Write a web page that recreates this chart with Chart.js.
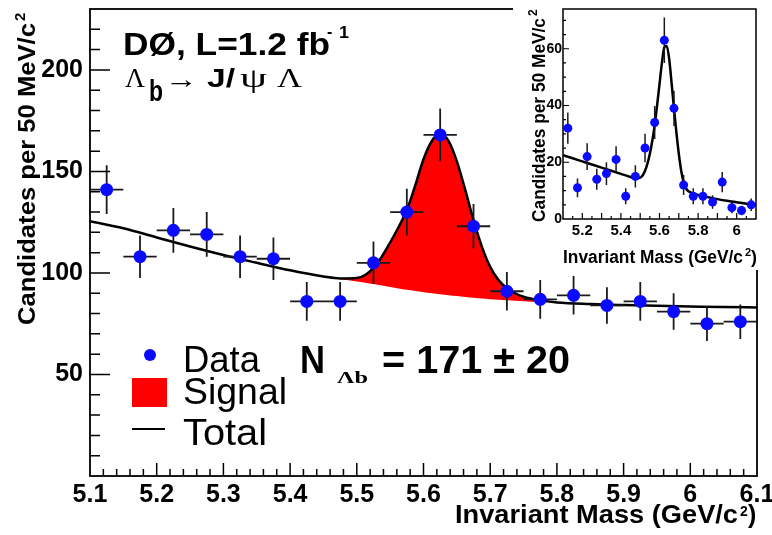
<!DOCTYPE html>
<html>
<head>
<meta charset="utf-8">
<title>Lambda_b invariant mass</title>
<script src="https://cdn.jsdelivr.net/npm/chart.js@4.4.1/dist/chart.umd.min.js"></script>
<style>
  html, body { margin: 0; padding: 0; background: #fff; }
  #wrap { position: relative; width: 772px; height: 535px; overflow: hidden; }
  #mainChart { position: absolute; left: 0; top: 0; }
  #insetBox { position: absolute; left: 513px; top: 0; width: 259px; height: 270px; background: #fff; }
</style>
</head>
<body>
<div id="wrap">
  <canvas id="mainChart" width="772" height="535"></canvas>
  <div id="insetBox"><canvas id="insetChart" width="259" height="270"></canvas></div>
</div>
<script>
// --- donnees du graphique principal (bins de 50 MeV) ---
const massBins = [5.125, 5.175, 5.225, 5.275, 5.325, 5.375, 5.425, 5.475, 5.525, 5.575,
                  5.625, 5.675, 5.725, 5.775, 5.825, 5.875, 5.925, 5.975, 6.025, 6.075];
const candidates = [141, 108, 121, 119, 108, 107, 86, 86, 105, 130,
                    168, 123, 91, 87, 89, 84, 86, 81, 75, 76];
const candErrors = [12, 10.5, 11, 11, 10.5, 10.5, 9.5, 9.5, 10.5, 11.5,
                    13, 11, 9.5, 9.5, 9.5, 9, 9.5, 9, 8.5, 8.5];

// courbe d'ajustement
const fitMass = [5.1, 5.15, 5.2, 5.25, 5.3, 5.35, 5.4, 5.45, 5.475, 5.5,
                 5.5125, 5.525, 5.5375, 5.55, 5.5625, 5.575, 5.5875, 5.6, 5.6125, 5.625,
                 5.6375, 5.65, 5.6625, 5.675, 5.6875, 5.7, 5.7125, 5.725, 5.7375, 5.75,
                 5.775, 5.8, 5.85, 5.9, 5.95, 6.0, 6.05, 6.1];
const fitTotal = [125.5, 122, 117.5, 113, 108.8, 105, 101.3, 98.3, 97.3, 97.5,
                  99, 102.5, 108, 115, 122.5, 131, 143, 156, 165, 168.5,
                  165, 155, 141, 126, 113, 103, 96.5, 92.5, 90, 88.3,
                  86.5, 85.5, 84.7, 84.2, 83.8, 83.5, 83.2, 83];
const fitBackground = [125.5, 122, 117.5, 113, 108.8, 105, 101.3, 98.3, 97.0, 95.8,
                       95.2, 94.5, 93.8, 93.1, 92.4, 91.7, 91.1, 90.5, 90.0, 89.5,
                       89.0, 88.6, 88.2, 87.8, 87.4, 87.1, 86.8, 86.5, 86.3, 86.1,
                       85.7, 85.4, 84.7, 84.2, 83.8, 83.5, 83.2, 83];

const xTickValues = [5.1, 5.2, 5.3, 5.4, 5.5, 5.6, 5.7, 5.8, 5.9, 6.0, 6.1];
const xTickLabels = ['5.1', '5.2', '5.3', '5.4', '5.5', '5.6', '5.7', '5.8', '5.9', '6', '6.1'];
const yTickValues = [50, 100, 150, 200];

// --- encart ---
const insetCounts = [32, 11, 22, 14, 16, 21, 8, 15, 25, 34,
                     63, 39, 12, 8, 8, 6, 13, 4, 3, 5];
const insetErrors = [5.5, 3.3, 4.7, 3.7, 4, 4.6, 2.8, 3.9, 5, 5.8,
                     8, 6.2, 3.5, 2.8, 2.8, 2.4, 3.6, 2, 1.7, 2.2];
const insetFit = [22.5, 21.4, 20.3, 19.2, 18.1, 17, 15.9, 14.8, 14.3, 14.6,
                  15.3, 17, 19.5, 23, 27.5, 33, 40, 47.5, 55, 60.5,
                  61, 56.5, 48, 39, 30.5, 23, 17, 13, 10.8, 9.8,
                  9, 8.5, 7.7, 7, 6.4, 5.9, 5.4, 5];
const insetXTickValues = [5.2, 5.4, 5.6, 5.8, 6.0];
const insetXTickLabels = ['5.2', '5.4', '5.6', '5.8', '6'];
const insetYTickValues = [0, 20, 40, 60];

const SANS = '"Liberation Sans", Arial, sans-serif';
const SERIF = '"Liberation Serif", "DejaVu Serif", serif';
const BLUE = '#0a0aff';
const RED = '#ff0000';

function pts(xs, ys) {
  return xs.map((x, i) => ({ x: x, y: ys[i] }));
}

// texte avec largeur imposee (la figure d'origine est un peu etiree)
function txt(ctx, s, x, y, font, w) {
  ctx.save();
  ctx.font = font;
  ctx.fillStyle = '#000';
  ctx.textAlign = 'left';
  ctx.textBaseline = 'alphabetic';
  ctx.translate(x, y);
  if (w) ctx.scale(w / ctx.measureText(s).width, 1);
  ctx.fillText(s, 0, 0);
  ctx.restore();
}

// barres d'erreur, dessinees juste avant les marqueurs
const errorBars = {
  id: 'errorBars',
  beforeDatasetDraw(chart, args) {
    const ds = chart.data.datasets[args.index];
    if (!ds.errors) return;
    const ctx = chart.ctx, x = chart.scales.x, y = chart.scales.y;
    ctx.save();
    ctx.strokeStyle = '#1a1a1a';
    ctx.lineWidth = ds.errorWidth;
    ctx.beginPath();
    ds.data.forEach((p, i) => {
      const px = x.getPixelForValue(p.x);
      const py = y.getPixelForValue(p.y);
      ctx.moveTo(px, y.getPixelForValue(p.y - ds.errors[i]));
      ctx.lineTo(px, y.getPixelForValue(p.y + ds.errors[i]));
      if (ds.binHalf) {
        ctx.moveTo(x.getPixelForValue(p.x - ds.binHalf), py);
        ctx.lineTo(x.getPixelForValue(p.x + ds.binHalf), py);
      }
    });
    ctx.stroke();
    ctx.restore();
  }
};

// cadre + graduations vers l'interieur (style ROOT)
function framePlugin(o) {
  return {
    id: 'frame',
    afterDatasetsDraw(chart) {
      const ctx = chart.ctx, a = chart.chartArea;
      const x = chart.scales.x, y = chart.scales.y;
      ctx.save();
      ctx.strokeStyle = '#000';
      ctx.lineWidth = o.tickWidth;
      ctx.beginPath();
      const ny = Math.round((y.max - y.min) / o.yMinor);
      for (let i = 1; i < ny; i++) {
        const v = y.min + i * o.yMinor;
        const major = i % o.yEvery === 0;
        const py = y.getPixelForValue(v);
        ctx.moveTo(a.left, py);
        ctx.lineTo(a.left + (major ? o.yMajorLen : o.yMinorLen), py);
      }
      const nx = Math.round((x.max - x.min) / o.xMinor);
      for (let i = 1; i < nx; i++) {
        const v = o.xStart + i * o.xMinor;
        if (v >= x.max) break;
        const major = i % o.xEvery === 0;
        const px = x.getPixelForValue(v);
        ctx.moveTo(px, a.bottom);
        ctx.lineTo(px, a.bottom - (major ? o.xMajorLen : o.xMinorLen));
      }
      ctx.stroke();
      ctx.lineWidth = o.frameWidth;
      ctx.strokeRect(a.left, a.top, a.right - a.left, a.bottom - a.top);
      ctx.restore();
    }
  };
}

const mainTexts = {
  id: 'mainTexts',
  afterDraw(chart) {
    const ctx = chart.ctx;
    // titre
    txt(ctx, 'D\u00d8, L=1.2 fb', 123, 55, 'bold 31px ' + SANS, 207);
    txt(ctx, '-', 327, 37, 'bold 16px ' + SANS);
    txt(ctx, '1', 339, 38, 'bold 16px ' + SANS, 10);
    txt(ctx, '\u039b', 125, 87, '27px ' + SERIF, 20);
    txt(ctx, 'b', 149, 101, 'bold 29px ' + SANS, 14);
    txt(ctx, '\u2192', 165, 88, '26px ' + SERIF, 33);
    txt(ctx, 'J/', 207, 87, 'bold 26px ' + SANS, 28);
    txt(ctx, '\u03c8', 240, 87, '27px ' + SERIF, 27);
    txt(ctx, '\u039b', 277, 87, '27px ' + SERIF, 25);

    // legende
    ctx.save();
    ctx.fillStyle = BLUE;
    ctx.beginPath();
    ctx.arc(150, 355, 6, 0, Math.PI * 2);
    ctx.fill();
    ctx.fillStyle = RED;
    ctx.fillRect(132, 378, 35, 29);
    ctx.strokeStyle = '#000';
    ctx.lineWidth = 2;
    ctx.beginPath();
    ctx.moveTo(132, 429);
    ctx.lineTo(165, 429);
    ctx.stroke();
    ctx.restore();
    txt(ctx, 'Data', 183, 372, '36px ' + SANS, 77);
    txt(ctx, 'Signal', 183, 404, '36px ' + SANS, 104);
    txt(ctx, 'Total', 183, 445, '36px ' + SANS, 84);

    // nombre de signal
    txt(ctx, 'N', 300, 373, 'bold 38px ' + SANS, 25);
    txt(ctx, '\u039bb', 337, 383, 'bold 17px ' + SERIF, 31);
    txt(ctx, '= 171 \u00b1 20', 382, 373, 'bold 38px ' + SANS, 188);

    // titres des axes
    txt(ctx, 'Invariant Mass (GeV/c', 455, 523, 'bold 25px ' + SANS, 283);
    txt(ctx, '2', 740, 516, 'bold 14px ' + SANS);
    txt(ctx, ')', 748, 523, 'bold 25px ' + SANS);
    ctx.save();
    ctx.translate(35, 325);
    ctx.rotate(-Math.PI / 2);
    txt(ctx, 'Candidates per 50 MeV/c', 0, 0, 'bold 24px ' + SANS, 302);
    txt(ctx, '2', 304, -10, 'bold 15px ' + SANS);
    ctx.restore();
  }
};

const insetTexts = {
  id: 'insetTexts',
  afterDraw(chart) {
    const ctx = chart.ctx;
    txt(ctx, 'Invariant Mass (GeV/c', 50, 263, 'bold 18px ' + SANS, 180);
    txt(ctx, '2', 232, 256, 'bold 11px ' + SANS);
    txt(ctx, ')', 238, 263, 'bold 18px ' + SANS);
    ctx.save();
    ctx.translate(32, 222);
    ctx.rotate(-Math.PI / 2);
    txt(ctx, 'Candidates per 50 MeV/c', 0, 0, 'bold 18px ' + SANS, 204);
    txt(ctx, '2', 206, -8, 'bold 12px ' + SANS);
    ctx.restore();
  }
};

Chart.defaults.font.family = SANS;
Chart.defaults.color = '#000';

// graphique principal
new Chart(document.getElementById('mainChart'), {
  type: 'scatter',
  data: {
    datasets: [{
      label: 'Data',
      data: pts(massBins, candidates),
      errors: candErrors,
      binHalf: 0.025,
      errorWidth: 1.8,
      pointRadius: 6.5,
      pointBackgroundColor: BLUE,
      pointBorderWidth: 0,
      showLine: false,
      order: 0
    }, {
      label: 'Total',
      data: pts(fitMass, fitTotal),
      showLine: true,
      borderColor: '#000',
      borderWidth: 2.5,
      pointRadius: 0,
      cubicInterpolationMode: 'monotone',
      fill: { target: 2 },
      backgroundColor: RED,
      order: 1
    }, {
      label: 'Background',
      data: pts(fitMass, fitBackground),
      showLine: true,
      borderColor: 'rgba(0,0,0,0)',
      borderWidth: 1,
      pointRadius: 0,
      cubicInterpolationMode: 'monotone',
      fill: false,
      order: 2
    }]
  },
  options: {
    responsive: false,
    animation: false,
    events: [],
    layout: { padding: { left: 0, top: 9, right: 15, bottom: 0 } },
    scales: {
      x: {
        type: 'linear',
        min: 5.1,
        max: 6.1,
        grid: { display: false, drawTicks: false },
        border: { display: false },
        afterBuildTicks: (axis) => { axis.ticks = xTickValues.map(v => ({ value: v })); },
        afterFit: (axis) => { axis.height = 59; axis.paddingLeft = 0; axis.paddingRight = 0; },
        ticks: {
          autoSkip: false,
          maxRotation: 0,
          padding: 4,
          font: { size: 25, weight: 'bold' },
          callback: (v, i) => xTickLabels[i]
        }
      },
      y: {
        min: 0,
        max: 230,
        grid: { display: false, drawTicks: false },
        border: { display: false },
        afterBuildTicks: (axis) => { axis.ticks = yTickValues.map(v => ({ value: v })); },
        afterFit: (axis) => { axis.width = 90; axis.paddingTop = 0; axis.paddingBottom = 0; },
        ticks: {
          autoSkip: false,
          padding: 7,
          font: { size: 25, weight: 'bold' }
        }
      }
    },
    plugins: {
      legend: { display: false },
      tooltip: { enabled: false }
    }
  },
  plugins: [errorBars, framePlugin({
    tickWidth: 1.5, frameWidth: 1.8,
    yMinor: 10, yEvery: 5, yMajorLen: 20, yMinorLen: 10,
    xStart: 5.1, xMinor: 0.02, xEvery: 5, xMajorLen: 13, xMinorLen: 7
  }), mainTexts]
});

// encart
new Chart(document.getElementById('insetChart'), {
  type: 'scatter',
  data: {
    datasets: [{
      label: 'Data',
      data: pts(massBins, insetCounts),
      errors: insetErrors,
      errorWidth: 1.5,
      pointRadius: 4.5,
      pointBackgroundColor: BLUE,
      pointBorderWidth: 0,
      showLine: false,
      order: 0
    }, {
      label: 'Fit',
      data: pts(fitMass, insetFit),
      showLine: true,
      borderColor: '#000',
      borderWidth: 2.5,
      pointRadius: 0,
      cubicInterpolationMode: 'monotone',
      fill: false,
      order: 1
    }]
  },
  options: {
    responsive: false,
    animation: false,
    events: [],
    layout: { padding: { left: 0, top: 9, right: 16, bottom: 0 } },
    scales: {
      x: {
        type: 'linear',
        min: 5.1,
        max: 6.1,
        grid: { display: false, drawTicks: false },
        border: { display: false },
        afterBuildTicks: (axis) => { axis.ticks = insetXTickValues.map(v => ({ value: v })); },
        afterFit: (axis) => { axis.height = 51; axis.paddingLeft = 0; axis.paddingRight = 0; },
        ticks: {
          autoSkip: false,
          maxRotation: 0,
          padding: 3,
          font: { size: 15, weight: 'bold' },
          callback: (v, i) => insetXTickLabels[i]
        }
      },
      y: {
        min: 0,
        max: 74,
        grid: { display: false, drawTicks: false },
        border: { display: false },
        afterBuildTicks: (axis) => { axis.ticks = insetYTickValues.map(v => ({ value: v })); },
        afterFit: (axis) => { axis.width = 50; axis.paddingTop = 0; axis.paddingBottom = 0; },
        ticks: {
          autoSkip: false,
          padding: 1,
          font: { size: 14, weight: 'bold' }
        }
      }
    },
    plugins: {
      legend: { display: false },
      tooltip: { enabled: false }
    }
  },
  plugins: [errorBars, framePlugin({
    tickWidth: 1.2, frameWidth: 1.5,
    yMinor: 5, yEvery: 4, yMajorLen: 6, yMinorLen: 3,
    xStart: 5.1, xMinor: 0.05, xEvery: 2, xMajorLen: 6, xMinorLen: 3
  }), insetTexts]
});
</script>
</body>
</html>
